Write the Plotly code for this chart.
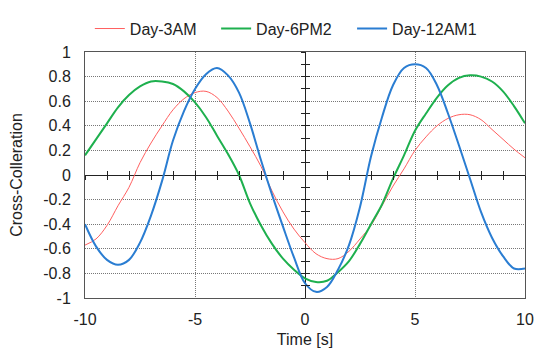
import plotly.graph_objects as go

t = [-10, -9.5, -9, -8.5, -8, -7.5, -7, -6.5, -6, -5.5, -5, -4.5, -4, -3.5, -3, -2.5, -2, -1.5, -1, -0.5,
     0, 0.5, 1, 1.5, 2, 2.5, 3, 3.5, 4, 4.5, 5, 5.5, 6, 6.5, 7, 7.5, 8, 8.5, 9, 9.5, 10]

day_3am = [-0.57, -0.52, -0.41, -0.25, -0.10, 0.10, 0.26, 0.40, 0.53, 0.62, 0.67, 0.68, 0.63, 0.52, 0.38, 0.23, 0.07, -0.13, -0.30, -0.44,
           -0.55, -0.64, -0.68, -0.68, -0.62, -0.52, -0.41, -0.25, -0.09, 0.05, 0.20, 0.31, 0.40, 0.46, 0.49, 0.49, 0.45, 0.37, 0.29, 0.21, 0.14]

day_6pm2 = [0.16, 0.29, 0.42, 0.55, 0.65, 0.72, 0.76, 0.76, 0.74, 0.68, 0.59, 0.47, 0.32, 0.17, 0.00, -0.23, -0.41, -0.56, -0.68, -0.77,
            -0.84, -0.87, -0.86, -0.79, -0.70, -0.56, -0.40, -0.24, -0.03, 0.16, 0.36, 0.50, 0.63, 0.73, 0.79, 0.81, 0.80, 0.76, 0.68, 0.56, 0.42]

day_12am1 = [-0.40, -0.58, -0.69, -0.73, -0.69, -0.55, -0.33, -0.05, 0.28, 0.52, 0.70, 0.82, 0.87, 0.81, 0.67, 0.42, 0.12, -0.16, -0.42, -0.67,
             -0.88, -0.95, -0.91, -0.77, -0.57, -0.26, 0.15, 0.47, 0.73, 0.87, 0.90, 0.87, 0.73, 0.50, 0.24, -0.03, -0.30, -0.51, -0.66, -0.76, -0.76]

names = ["Day-3AM", "Day-6PM2", "Day-12AM1"]
series = [day_3am, day_6pm2, day_12am1]
colors = ["#ff5f5f", "#1eb04e", "#2a7dd2"]
widths = [1, 2, 2]
legend_ids = ["legend", "legend2", "legend3"]
legend_x = [0.011, 0.298, 0.607]

x_ticks = [-10, -5, 0, 5, 10]
x_ticktext = ["-10", "-5", "0", "5", "10"]
y_ticks = [-1, -0.8, -0.6, -0.4, -0.2, 0, 0.2, 0.4, 0.6, 0.8, 1]
y_ticktext = ["-1", "-0.8", "-0.6", "-0.4", "-0.2", "0", "0.2", "0.4", "0.6", "0.8", "1"]

fig = go.Figure()
for n, s, c, w, lg in zip(names, series, colors, widths, legend_ids):
    fig.add_trace(go.Scatter(x=t, y=s, mode="lines", name=n, legend=lg,
                             line=dict(color=c, width=w, shape="spline", smoothing=1.0)))

# empty helper traces so the central crossing tick axes get drawn
for xa, ya in [("x2", "y"), ("x3", "y"), ("x", "y2"), ("x", "y3")]:
    fig.add_trace(go.Scatter(x=[None], y=[None], xaxis=xa, yaxis=ya, showlegend=False, hoverinfo="skip"))

font = dict(family="Liberation Sans, Arial, sans-serif", size=15, color="#222")

legend_common = dict(orientation="h", y=1.095, xanchor="left", yanchor="middle",
                     font=dict(size=16, color="#222"), itemwidth=30, bgcolor="rgba(0,0,0,0)")

grid = dict(showgrid=True, gridcolor="#777777", griddash="1px,1px", gridwidth=1,
            zeroline=True, zerolinecolor="#222", zerolinewidth=1,
            showline=True, mirror=True, linecolor="#555", linewidth=1)

fig.update_layout(
    width=534, height=354,
    margin=dict(l=85, r=9, t=52, b=56),
    paper_bgcolor="white", plot_bgcolor="white",
    font=font,
    showlegend=True,
    legend=dict(x=legend_x[0], **legend_common),
    legend2=dict(x=legend_x[1], **legend_common),
    legend3=dict(x=legend_x[2], **legend_common),
    xaxis=dict(range=[-10, 10], tickvals=x_ticks, ticktext=x_ticktext, ticks="", ticklabelstandoff=7,
               title=dict(text="Time [s]", standoff=6, font=dict(size=16)),
               tickfont=dict(size=16), automargin=False, **grid),
    yaxis=dict(range=[-1, 1], tickvals=y_ticks, ticktext=y_ticktext, ticks="", ticklabelstandoff=10,
               title=dict(text="Cross-Colleration", standoff=16, font=dict(size=16)),
               tickfont=dict(size=16), automargin=False, **grid),
    xaxis2=dict(overlaying="x", anchor="free", position=0.5, range=[-10, 10], dtick=1,
                ticks="outside", ticklen=4, tickcolor="#222", showticklabels=False,
                showgrid=False, zeroline=False, showline=False),
    xaxis3=dict(overlaying="x", anchor="free", position=0.5, range=[-10, 10], dtick=1,
                ticks="inside", ticklen=4, tickcolor="#222", showticklabels=False,
                showgrid=False, zeroline=False, showline=False),
    yaxis2=dict(overlaying="y", anchor="free", position=0.5, range=[-1, 1], dtick=0.1,
                ticks="outside", ticklen=4, tickcolor="#222", showticklabels=False,
                showgrid=False, zeroline=False, showline=False),
    yaxis3=dict(overlaying="y", anchor="free", position=0.5, range=[-1, 1], dtick=0.1,
                ticks="inside", ticklen=4, tickcolor="#222", showticklabels=False,
                showgrid=False, zeroline=False, showline=False),
)

fig.write_html("out.html", config={"displayModeBar": False},
               post_script="document.body.style.margin='0px';")
